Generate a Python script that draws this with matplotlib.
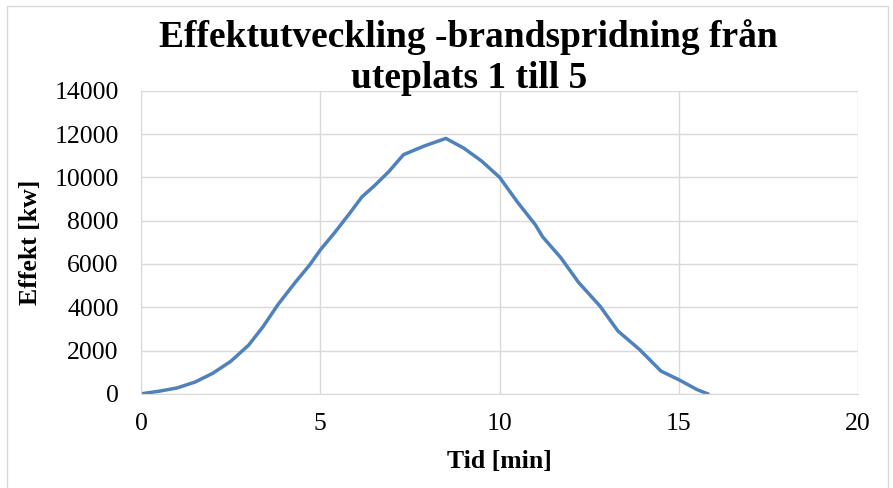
import matplotlib
matplotlib.use("Agg")
import matplotlib.pyplot as plt
from matplotlib.patches import Rectangle

# tid [min] och effekt [kW]
tid = [0, 0.5, 1.0, 1.5, 2.0, 2.5, 3.0, 3.4, 3.83, 4.3, 4.7, 5.0, 5.4, 5.8,
       6.16, 6.5, 6.9, 7.32, 7.9, 8.5, 9.0, 9.5, 10.0, 10.5, 11.0, 11.2,
       11.7, 12.2, 12.8, 13.3, 13.9, 14.5, 15.0, 15.5, 15.8]
effekt = [0, 120, 270, 540, 950, 1500, 2250, 3100, 4150, 5150, 5950, 6650,
          7450, 8300, 9100, 9600, 10250, 11050, 11450, 11800, 11350, 10750,
          10000, 8850, 7800, 7250, 6300, 5150, 4050, 2900, 2050, 1050, 650,
          200, 0]

xticks = [0, 5, 10, 15, 20]
yticks = list(range(0, 14001, 2000))

plt.rcParams['font.family'] = ['Liberation Serif', 'DejaVu Serif']

fig = plt.figure(figsize=(8.93, 4.88), dpi=100)
ax = fig.add_axes([0.158, 0.193, 0.803, 0.621])

# ram runt diagrammet
fig.patches.append(Rectangle((7 / 893, -0.01), 881 / 893, 1 - 6 / 488 + 0.01,
                             transform=fig.transFigure, fill=False,
                             edgecolor='#D9D9D9', lw=1))

ax.plot(tid, effekt, color='#4F81BD', lw=2.5, solid_joinstyle='round')

ax.set_xlim(0, 20)
ax.set_ylim(0, 14000)
ax.set_xticks(xticks)
ax.set_yticks(yticks)
ax.grid(True, color='#D9D9D9', lw=1)
ax.set_axisbelow(True)
for s in ['top', 'right']:
    ax.spines[s].set_visible(False)
for s in ['left', 'bottom']:
    ax.spines[s].set_color('#D9D9D9')
ax.tick_params(length=0, labelsize=18.5)
ax.tick_params(axis='x', pad=14)
ax.tick_params(axis='y', pad=16)

ax.set_xlabel('Tid [min]', fontsize=18.5, fontweight='bold')
ax.set_ylabel('Effekt [kw]', fontsize=18.5, fontweight='bold')
ax.xaxis.set_label_coords(0.5, -0.185)
ax.yaxis.set_label_coords(-0.138, 0.5)

fig.text(0.525, 0.96, 'Effektutveckling -brandspridning från\nuteplats 1 till 5',
         ha='center', va='top', fontsize=27, fontweight='bold', linespacing=1.2)

fig.savefig('out.png', dpi=100)
